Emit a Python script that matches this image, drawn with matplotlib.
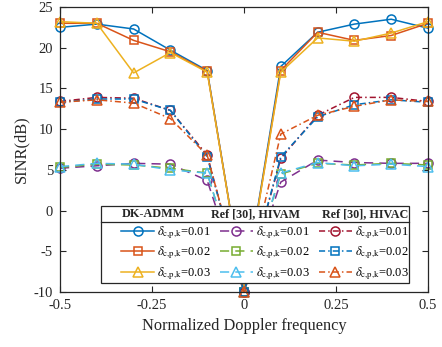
import matplotlib
matplotlib.use("Agg")
import matplotlib.pyplot as plt
from matplotlib.patches import Rectangle
from matplotlib.lines import Line2D

plt.rcParams['font.family'] = ['Liberation Serif', 'DejaVu Serif']
plt.rcParams['mathtext.fontset'] = 'stix'
plt.rcParams['axes.unicode_minus'] = False

x = [-0.5, -0.4, -0.3, -0.2, -0.1, 0.0, 0.1, 0.2, 0.3, 0.4, 0.5]

dk_001 = [22.5, 22.9, 22.3, 19.7, 17.2, -10, 17.7, 21.9, 22.9, 23.5, 22.4]
dk_002 = [23.0, 23.0, 20.9, 19.5, 17.1, -10, 17.2, 21.9, 20.9, 21.5, 23.0]
dk_003 = [23.2, 23.0, 16.9, 19.4, 17.0, -10, 17.0, 21.2, 20.8, 21.8, 23.2]

hivam_001 = [5.2, 5.5, 5.8, 5.7, 3.7, -10, 3.5, 6.2, 5.9, 5.8, 5.8]
hivam_002 = [5.3, 5.7, 5.6, 5.2, 4.6, -10, 4.5, 5.8, 5.6, 5.8, 5.6]
hivam_003 = [5.4, 5.8, 5.7, 5.0, 4.6, -10, 4.6, 5.9, 5.5, 5.7, 5.4]

hivac_001 = [13.4, 13.9, 13.8, 12.3, 6.8, -10, 6.4, 11.7, 13.9, 13.9, 13.4]
hivac_002 = [13.3, 13.7, 13.7, 12.3, 6.6, -10, 6.6, 11.5, 13.0, 13.6, 13.3]
hivac_003 = [13.3, 13.6, 13.2, 11.3, 6.8, -10, 9.4, 11.7, 12.8, 13.6, 13.4]

labels = [r'$\delta_{\mathrm{c{,}p{,}k}}$=0.01', r'$\delta_{\mathrm{c{,}p{,}k}}$=0.02',
          r'$\delta_{\mathrm{c{,}p{,}k}}$=0.03']
headers = ['DK-ADMM', 'Ref [30], HIVAM', 'Ref [30], HIVAC']
xticks = [-0.5, -0.25, 0, 0.25, 0.5]
xticklabels = ['-0.5', '-0.25', '0', '0.25', '0.5']
yticks = [-10, -5, 0, 5, 10, 15, 20, 25]

series = [
    (dk_001, '#0072BD', '-', 'o'),
    (dk_002, '#D95319', '-', 's'),
    (dk_003, '#EDB120', '-', '^'),
    (hivam_001, '#7E2F8E', (0, (6, 4)), 'o'),
    (hivam_002, '#77AC30', (0, (6, 4)), 's'),
    (hivam_003, '#4DBEEE', (0, (6, 4)), '^'),
    (hivac_001, '#A2142F', (0, (4, 2, 1, 2)), 'o'),
    (hivac_002, '#0072BD', (0, (4, 2, 1, 2)), 's'),
    (hivac_003, '#D95319', (0, (4, 2, 1, 2)), '^'),
]

fig = plt.figure(figsize=(4.42, 3.47), dpi=100)
ax = fig.add_axes([60/442, 1-292/347, 368/442, 285/347])

handles = []
for ys, c, ls, m in series:
    ms = 7.2 if m == '^' else (6.5 if m == 'o' else 5.5)
    h, = ax.plot(x, ys, color=c, linestyle=ls, marker=m, markersize=ms,
                 markerfacecolor='none', markeredgewidth=1.1, linewidth=1.1,
                 clip_on=False, zorder=3)
    handles.append(h)

ax.set_xlim(-0.5, 0.5)
ax.set_ylim(-10, 25)
ax.set_xticks(xticks)
ax.set_xticklabels(xticklabels)
ax.set_yticks(yticks)
ax.tick_params(direction='in', length=4, width=0.8, top=True, right=True,
               labelsize=10.5, colors='#262626', pad=5)
for sp in ax.spines.values():
    sp.set_color('#262626')
    sp.set_linewidth(0.9)
    sp.set_zorder(6)
ax.set_xlabel('Normalized Doppler frequency', fontsize=11.8, color='#262626', labelpad=4)
ax.set_ylabel('SINR(dB)', fontsize=11.8, color='#262626', labelpad=3)

# legend box
bx0, bx1, by0, by1 = 0.111, 0.948, 0.032, 0.303
ax.add_patch(Rectangle((bx0, by0), bx1 - bx0, by1 - by0, transform=ax.transAxes,
                       facecolor='white', edgecolor='#262626', linewidth=0.9,
                       zorder=7, clip_on=False))
ax.add_line(Line2D([bx0, bx1], [0.245, 0.245], transform=ax.transAxes,
                   color='#262626', linewidth=0.9, zorder=8))
for hx, t in zip([0.253, 0.531, 0.829], headers):
    ax.text(hx, 0.274, t, transform=ax.transAxes, ha='center', va='center',
            fontsize=8.7, fontweight='bold', color='#262626', zorder=8)

leg = ax.legend(handles, labels * 3, ncol=3, loc='upper left',
                bbox_to_anchor=(0.166, 0.238), frameon=False, fontsize=9,
                borderpad=0, handlelength=2.65, handletextpad=0.25,
                columnspacing=0.7, labelspacing=0.3, borderaxespad=0)
leg.set_zorder(9)

fig.savefig('out.png', dpi=100)
